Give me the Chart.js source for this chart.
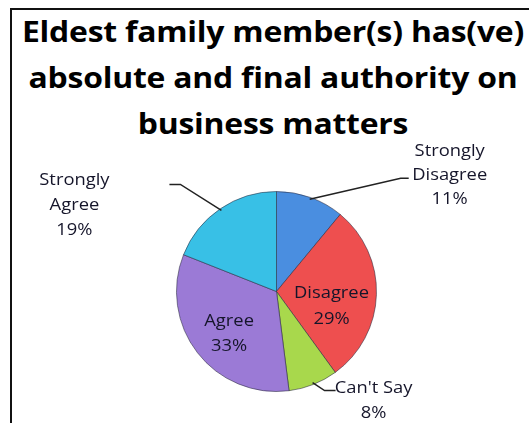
<!DOCTYPE html>
<html lang="en">
<head>
    <meta charset="UTF-8">
    <title>Eldest family member(s) has(ve) absolute and final authority on business matters</title>
    <script src="https://cdn.jsdelivr.net/npm/chart.js"></script>
    <style>
        html, body { margin: 0; padding: 0; background: #fff; overflow: hidden; }
        #wrap { position: relative; width: 529px; height: 423px; }
        #frame {
            position: absolute; left: 10px; top: 8px; width: 600px; height: 500px;
            border: 2px solid #111; box-sizing: border-box;
        }
        #title {
            position: absolute; left: 0; top: 0; width: 546px; text-align: center;
            font-family: "Open Sans", Lato, sans-serif; font-weight: bold;
            font-size: 29px; line-height: 46px; padding-top: 8px; color: #000;
            letter-spacing: -0.2px;
            transform: scaleX(1.1); transform-origin: 273px 0;
        }
        #chartBox { position: absolute; left: 0; top: 0; width: 529px; height: 423px; }
    </style>
</head>
<body>
<div id="wrap">
    <div id="frame"></div>
    <div id="title">Eldest family member(s) has(ve)<br>absolute and final authority on<br>business matters</div>
    <div id="chartBox"><canvas id="myChart"></canvas></div>
</div>
<script>
    const categories = ['Strongly Disagree', 'Disagree', "Can't Say", 'Agree', 'Strongly Agree'];
    const shares = [11, 29, 8, 33, 19];

    // base / highlight / edge shade for each slice
    const baseColors = ['#4a8ee0', '#ee4f4f', '#a8d84c', '#9b7ad6', '#38c0e6'];
    const lightColors = ['#62a6f0', '#f56e6a', '#bce65e', '#ad8fe2', '#55d0f0'];
    const edgeColors = ['#2e6cc0', '#c43838', '#85b536', '#7658b6', '#1f9ec6'];

    // where each label sits: text lines, inside or on a leader line
    const labelLayout = [
        { lines: ['Strongly', 'Disagree', '11%'], elbow: [91, -21], tail: 8, text: [41, [-22, 2, 26]] },
        { lines: ['Disagree', '29%'], inside: 0.55, text: [0, [5, 31]] },
        { lines: ["Can't Say", '8%'], elbow: [12, 8], tail: 11, text: [38, [2, 27]] },
        { lines: ['Agree', '33%'], inside: 0.6, text: [0, [-2, 23]] },
        { lines: ['Strongly', 'Agree', '19%'], elbow: [-41, -26], tail: -11, text: [-95, [1, 26, 51]] }
    ];

    function sliceFill(context) {
        const chart = context.chart;
        const i = context.dataIndex;
        const meta = chart.getDatasetMeta(0);
        const arc = meta.data[i];
        if (!arc || !arc.outerRadius) return baseColors[i];
        const g = chart.ctx.createRadialGradient(arc.x, arc.y, 0, arc.x, arc.y, arc.outerRadius);
        g.addColorStop(0, lightColors[i]);
        g.addColorStop(0.75, baseColors[i]);
        g.addColorStop(1, edgeColors[i]);
        return g;
    }

    // label text is a touch wider than the font's natural width
    function wideText(ctx, t, x, y) {
        ctx.save();
        ctx.translate(x, y);
        ctx.scale(1.08, 1);
        ctx.fillText(t, 0, 0);
        ctx.restore();
    }

    const pieLabels = {
        id: 'pieLabels',
        afterDatasetsDraw(chart) {
            const ctx = chart.ctx;
            const meta = chart.getDatasetMeta(0);
            ctx.save();
            ctx.font = '17px "Open Sans", Lato, sans-serif';
            ctx.fillStyle = '#15152a';
            ctx.textAlign = 'center';
            ctx.textBaseline = 'alphabetic';
            meta.data.forEach((arc, i) => {
                const cfg = labelLayout[i];
                const mid = (arc.startAngle + arc.endAngle) / 2;
                if (cfg.inside) {
                    const r = arc.outerRadius * cfg.inside;
                    const px = arc.x + Math.cos(mid) * r;
                    const py = arc.y + Math.sin(mid) * r;
                    cfg.lines.forEach((t, k) => wideText(ctx, t, px + cfg.text[0], py + cfg.text[1][k]));
                    return;
                }
                const sx = arc.x + Math.cos(mid) * (arc.outerRadius - 2);
                const sy = arc.y + Math.sin(mid) * (arc.outerRadius - 2);
                const ex = sx + cfg.elbow[0];
                const ey = sy + cfg.elbow[1];
                const tx = ex + cfg.tail;
                ctx.beginPath();
                ctx.strokeStyle = '#222';
                ctx.lineWidth = 1.5;
                ctx.moveTo(sx, sy);
                ctx.lineTo(ex, ey);
                ctx.lineTo(tx, ey);
                ctx.stroke();
                cfg.lines.forEach((t, k) => wideText(ctx, t, tx + cfg.text[0], ey + cfg.text[1][k]));
            });
            ctx.restore();
        }
    };

    const ctx = document.getElementById('myChart').getContext('2d');
    const myChart = new Chart(ctx, {
        type: 'pie',
        data: {
            labels: categories,
            datasets: [{
                data: shares,
                backgroundColor: sliceFill,
                borderColor: 'rgba(40, 40, 60, 0.55)',
                borderWidth: 1
            }]
        },
        options: {
            responsive: true,
            maintainAspectRatio: false,
            animation: false,
            layout: {
                padding: { left: 176, right: 152, top: 191, bottom: 31 }
            },
            plugins: {
                legend: { display: false },
                title: { display: false },
                tooltip: { enabled: false }
            }
        },
        plugins: [pieLabels]
    });
</script>
</body>
</html>
